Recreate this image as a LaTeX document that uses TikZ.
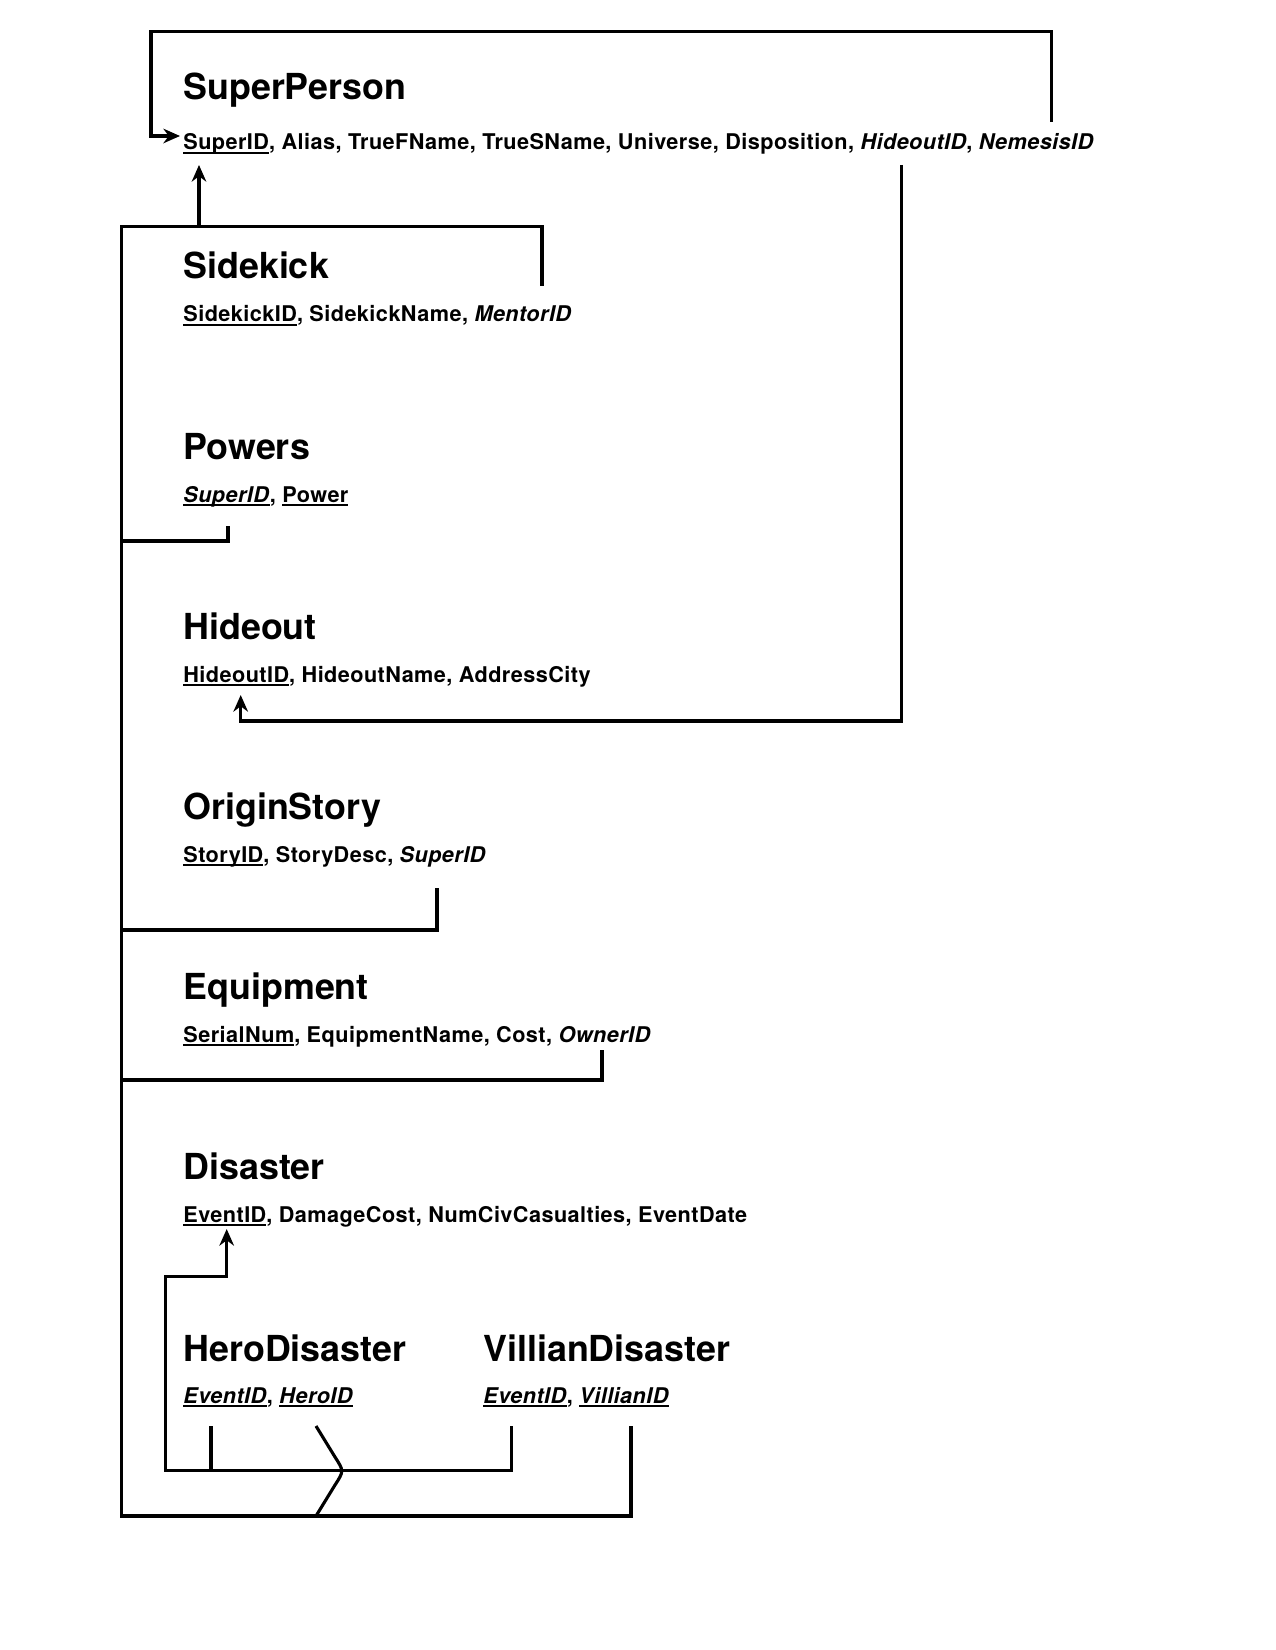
\documentclass[tikz,border=0pt]{standalone}
\usepackage{fontspec}
\setmainfont{TeX Gyre Heros}
\newfontfamily\attrfont[LetterSpace=2]{TeX Gyre Heros}
\usetikzlibrary{arrows.meta}
\tikzset{
  % Tabellennamen und Attribute
  tabtitle/.style = {anchor=base west, inner sep=0pt, font=\bfseries\fontsize{17.2}{20}\selectfont},
  tabattr/.style  = {anchor=base west, inner sep=0pt, font=\attrfont\bfseries\fontsize{10.4}{12}\selectfont},
  % Verbindungslinien
  link/.style     = {line width=1.5pt, line join=miter},
  fklink/.style   = {link, -{Stealth[length=8pt,width=7pt]}},
}
\newcommand{\pkey}[1]{\setbox0\hbox{#1}\rlap{\rule[-1.9pt]{\wd0}{0.9pt}}\box0}
\newcommand{\fkey}[1]{\textit{#1}}

\begin{document}
\begin{tikzpicture}[x=0.48pt, y=-0.48pt]
  \useasboundingbox (0,0) rectangle (1275,1650);
  % Tabellen
  \node[tabtitle] (spTitle) at (183,100) {SuperPerson};
  \node[tabattr]  (spAttr)  at (183,150) {\pkey{SuperID}, Alias, TrueFName, TrueSName, Universe, Disposition, \fkey{HideoutID}, \fkey{NemesisID}};
  \node[tabtitle] (skTitle) at (183,279) {Sidekick};
  \node[tabattr]  (skAttr)  at (183,322) {\pkey{SidekickID}, SidekickName, \fkey{MentorID}};
  \node[tabtitle] (pwTitle) at (183,459) {Powers};
  \node[tabattr]  (pwAttr)  at (183,502) {\pkey{\fkey{SuperID}}, \pkey{Power}};
  \node[tabtitle] (hoTitle) at (183,639) {Hideout};
  \node[tabattr]  (hoAttr)  at (183,682) {\pkey{HideoutID}, HideoutName, AddressCity};
  \node[tabtitle] (osTitle) at (183,819) {OriginStory};
  \node[tabattr]  (osAttr)  at (183,862) {\pkey{StoryID}, StoryDesc, \fkey{SuperID}};
  \node[tabtitle] (eqTitle) at (183,999) {Equipment};
  \node[tabattr]  (eqAttr)  at (183,1042) {\pkey{SerialNum}, EquipmentName, Cost, \fkey{OwnerID}};
  \node[tabtitle] (diTitle) at (183,1179) {Disaster};
  \node[tabattr]  (diAttr)  at (183,1222) {\pkey{EventID}, DamageCost, NumCivCasualties, EventDate};
  \node[tabtitle] (hdTitle) at (183,1361) {HeroDisaster};
  \node[tabattr]  (hdAttr)  at (183,1403) {\pkey{\fkey{EventID}}, \pkey{\fkey{HeroID}}};
  \node[tabtitle] (vdTitle) at (483,1361) {VillianDisaster};
  \node[tabattr]  (vdAttr)  at (483,1403) {\pkey{\fkey{EventID}}, \pkey{\fkey{VillianID}}};
  % Anschlusspunkte
  \coordinate (spKey)    at (180,136);
  \coordinate (spUp)     at (199,165);
  \coordinate (nemFK)    at (1051.7,121.7);
  \coordinate (hidFK)    at (901.7,165);
  \coordinate (hidKey)   at (240.7,695);
  \coordinate (mentorFK) at (542,286);
  \coordinate (powFK)    at (228,526);
  \coordinate (osFK)     at (437,888);
  \coordinate (eqFK)     at (602,1050);
  \coordinate (disKey)   at (226.7,1229);
  \coordinate (hdEvent)  at (211,1426);
  \coordinate (hdHero)   at (316,1426);
  \coordinate (vdEvent)  at (511.7,1426);
  \coordinate (vdVill)   at (631,1426);
  % NemesisID -> SuperID
  \draw[fklink] (nemFK) |- (151,31.7) |- (spKey);
  % MentorID -> SuperID
  \draw[fklink] (mentorFK) |- (199,226.7) -- (spUp);
  % Sammelleitung links
  \draw[link] (199,226.7) -| (121.7,1516) -| (vdVill);
  \draw[link] (powFK) |- (121.7,541);
  \draw[link] (osFK) |- (121.7,930);
  \draw[link] (eqFK) |- (121.7,1080);
  % HideoutID -> Hideout
  \draw[fklink] (hidFK) |- (240.7,721) -- (hidKey);
  % EventID -> Disaster
  \draw[fklink] (vdEvent) |- (165.7,1470.7) |- (226.7,1276.7) -- (disKey);
  \draw[link] (hdEvent) -- (211,1470.7);
  % HeroID, Sprung ueber die Linie
  \draw[link] (hdHero) -- (335,1457) .. controls (344,1471) .. (335,1485) -- (316,1516);
\end{tikzpicture}
\end{document}
